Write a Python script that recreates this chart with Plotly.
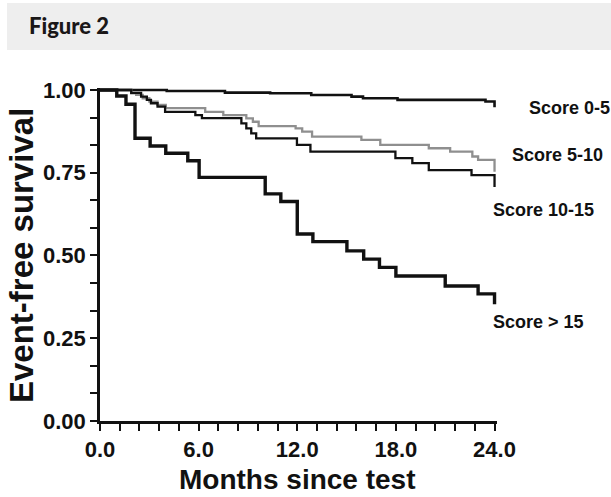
import plotly.graph_objects as go

# ---- data ----
t_0_5 = [0, 4.06, 7.6, 10.35, 12.85, 15.3, 16.0, 18.1, 23.45, 24.0]
s_0_5 = [1.0, 0.997, 0.992, 0.990, 0.985, 0.980, 0.975, 0.970, 0.965, 0.948]

t_5_10 = [0, 1.9, 2.2, 2.6, 3.0, 3.5, 4.0, 6.4, 7.5, 8.9, 9.3, 9.65, 11.9, 12.3, 12.9,
          15.9, 17.05, 20.0, 21.3, 22.65, 23.0, 24.0]
s_5_10 = [1.0, 0.99, 0.985, 0.975, 0.965, 0.955, 0.945, 0.934, 0.924, 0.914, 0.904, 0.891,
          0.884, 0.874, 0.859, 0.849, 0.834, 0.824, 0.814, 0.799, 0.789, 0.753]

t_10_15 = [0, 1.9, 2.5, 2.85, 3.1, 3.5, 3.96, 5.8, 6.2, 8.6, 8.9, 9.2, 9.5, 11.98, 12.8,
           17.97, 19.0, 20.0, 22.6, 24.0]
s_10_15 = [1.0, 0.991, 0.980, 0.970, 0.960, 0.950, 0.934, 0.924, 0.915, 0.899, 0.884, 0.869,
           0.854, 0.834, 0.814, 0.794, 0.779, 0.758, 0.743, 0.707]

t_15 = [0, 1.02, 1.58, 2.13, 3.05, 4.0, 5.34, 6.03, 10.05, 11.0, 12.0, 12.95, 15.02, 16.04,
        17.0, 18.0, 21.0, 23.0, 24.0]
s_15 = [1.0, 0.982, 0.957, 0.854, 0.831, 0.809, 0.786, 0.736, 0.686, 0.663, 0.565, 0.542,
        0.514, 0.489, 0.464, 0.438, 0.408, 0.384, 0.353]

x_ticks = [0, 6, 12, 18, 24]
x_tick_text = ["0.0", "6.0", "12.0", "18.0", "24.0"]
y_ticks = [0, 0.25, 0.5, 0.75, 1.0]
y_tick_text = ["0.00", "0.25", "0.50", "0.75", "1.00"]

labels = ["Score 0-5", "Score 5-10", "Score 10-15", "Score > 15"]

# ---- geometry ----
W, H = 611, 497
L, R, T, B = 100, 114, 88, 76
PW, PH = W - L - R, H - T - B


def px(xp):
    return (xp - L) / PW


def py(yp):
    return (H - B - yp) / PH


FONT = "Liberation Sans, Arial, Helvetica, sans-serif"

fig = go.Figure()
series = [
    (t_0_5, s_0_5, "#111111", 2.6),
    (t_5_10, s_5_10, "#8f8f8f", 2.3),
    (t_10_15, s_10_15, "#111111", 2.3),
    (t_15, s_15, "#111111", 3.4),
]
for (tx, sy, col, w), name in zip(series, labels):
    fig.add_trace(go.Scatter(x=tx, y=sy, mode="lines", name=name,
                             line=dict(color=col, width=w, shape="hv"),
                             hoverinfo="skip"))

axis_common = dict(
    showgrid=False, zeroline=False, showline=True, linecolor="#111111", linewidth=2.7,
    ticks="outside", ticklen=7, tickwidth=2, tickcolor="#111111",
    tickfont=dict(family=FONT, size=22, color="#111111", weight="bold"),
)
fig.update_xaxes(range=[0, 24.15], tickvals=x_ticks, ticktext=x_tick_text,
                 minor=dict(tick0=0, dtick=1.2, ticks="outside", ticklen=7, tickwidth=2,
                            tickcolor="#111111"),
                 **axis_common)
fig.update_yaxes(range=[0, 1.006], tickvals=y_ticks, ticktext=y_tick_text,
                 minor=dict(tick0=0, dtick=0.25 / 3, ticks="outside", ticklen=7, tickwidth=2,
                            tickcolor="#111111"),
                 **axis_common)

ann = []
# header
ann.append(dict(text="Figure 2", x=px(27), y=py(26), xref="paper", yref="paper",
                xanchor="left", yanchor="middle", showarrow=False,
                font=dict(family="Lato, Open Sans, sans-serif", size=22, color="#1a1718",
                          weight=900)))
# axis titles
ann.append(dict(text="Event-free survival", x=px(22), y=py(256), xref="paper", yref="paper",
                xanchor="center", yanchor="middle", showarrow=False, textangle=-90,
                font=dict(family=FONT, size=33, color="#111111", weight="bold")))
ann.append(dict(text="Months since test", x=px(297), y=py(479), xref="paper", yref="paper",
                xanchor="center", yanchor="middle", showarrow=False,
                font=dict(family=FONT, size=28, color="#111111", weight="bold")))
# series labels
lab_pos = [(527, 108), (510, 155), (491, 210), (491, 322)]
for text, (xp, yp) in zip(labels, lab_pos):
    ann.append(dict(text=text, x=px(xp), y=py(yp), xref="paper", yref="paper",
                    xanchor="left", yanchor="middle", showarrow=False,
                    font=dict(family=FONT, size=18, color="#111111", weight="bold")))

fig.update_layout(
    width=W, height=H, autosize=False,
    margin=dict(l=L, r=R, t=T, b=B, pad=0),
    paper_bgcolor="white", plot_bgcolor="white",
    showlegend=False,
    annotations=ann,
    shapes=[dict(type="rect", xref="paper", yref="paper", x0=px(7), x1=px(611),
                 y0=py(3), y1=py(50), fillcolor="#eeeeee", line=dict(width=0),
                 layer="below")],
)

fig.write_html("out.html", config={"displayModeBar": False},
               post_script="document.body.style.margin='0';document.body.style.overflow='hidden';")
